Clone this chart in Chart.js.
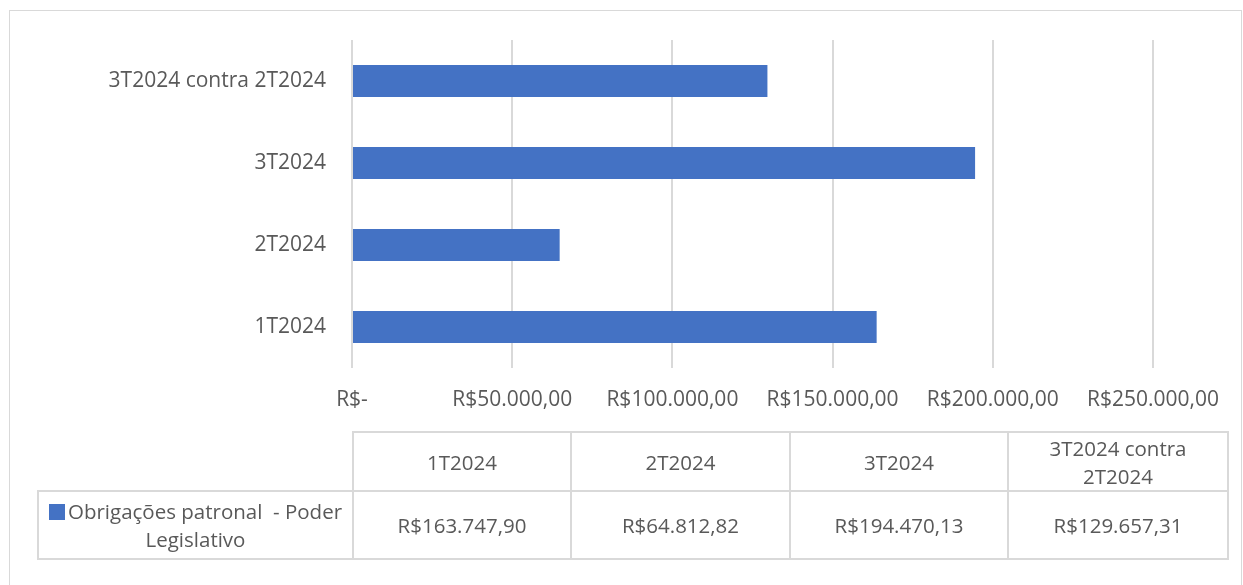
<!DOCTYPE html>
<html>
<head>
<meta charset="utf-8">
<script src="https://cdn.jsdelivr.net/npm/chart.js"></script>
<style>
  body { margin: 0; background: #fff; font-family: "Open Sans", sans-serif; }
  #wrap { position: relative; width: 1243px; height: 585px; overflow: hidden; }
  #frame { position: absolute; left: 9px; top: 10px; width: 1231px; height: 600px; border: 1px solid #d9d9d9; }
  canvas { position: absolute; left: 0; top: 0; }
  table { position: absolute; left: 37px; top: 431px; width: 1190px; table-layout: fixed;
          border-collapse: collapse; color: #595959; font-size: 20.5px; }
  td { border: 2px solid #d9d9d9; text-align: center; padding: 0; line-height: 28px; overflow: hidden; white-space: nowrap; }
  tr.head td { height: 57px; }
  tr.vals td { height: 66px; }
  td.blank { border: none; border-bottom: 2px solid #d9d9d9; }
  .sw { display: inline-block; width: 16px; height: 16px; background: #4472C4; margin-right: 3px; vertical-align: -1px; }
</style>
</head>
<body>
<div id="wrap">
  <div id="frame"></div>
  <canvas id="chart" width="1243" height="585"></canvas>
  <table id="tbl"></table>
</div>
<script>
const categories = ["1T2024", "2T2024", "3T2024", "3T2024 contra 2T2024"];
const tableHeaders = ["1T2024", "2T2024", "3T2024", "3T2024 contra<br>2T2024"];
const seriesName = "Obrigações patronal  - Poder Legislativo";
const values = [163747.90, 64812.82, 194470.13, 129657.31];
const axisMax = 250000;
const axisStep = 50000;

function brl(v) {
  if (v === 0) return "R$-";
  const parts = v.toFixed(2).split(".");
  const int = parts[0].replace(/\B(?=(\d{3})+(?!\d))/g, ".");
  return "R$" + int + "," + parts[1];
}

// data table under the chart
const colW = [315, 218, 219, 218, 220];
let html = '<colgroup>' + colW.map(w => '<col style="width:' + w + 'px">').join('') + '</colgroup>';
html += '<tr class="head"><td class="blank"></td>';
tableHeaders.forEach(h => { html += '<td>' + h + '</td>'; });
html += '</tr><tr class="vals"><td><span class="sw"></span>Obrigações patronal&nbsp; - Poder<br>Legislativo</td>';
values.forEach(v => { html += '<td>' + brl(v) + '</td>'; });
html += '</tr>';
document.getElementById("tbl").innerHTML = html;

const font = { family: "Open Sans", size: 21 };

new Chart(document.getElementById("chart"), {
  type: 'bar',
  data: {
    labels: categories,
    datasets: [{
      label: seriesName,
      data: values,
      backgroundColor: "#4472C4",
      barPercentage: 0.39,
      categoryPercentage: 1
    }]
  },
  options: {
    indexAxis: 'y',
    responsive: false,
    animation: false,
    layout: { padding: { top: 40, right: 90, left: 0, bottom: 0 } },
    plugins: { legend: { display: false }, tooltip: { enabled: false } },
    scales: {
      x: {
        min: 0,
        max: axisMax,
        ticks: {
          stepSize: axisStep,
          padding: 19,
          color: "#595959",
          font: font,
          callback: v => brl(v)
        },
        grid: { color: "#d9d9d9", lineWidth: 2, drawTicks: false },
        border: { display: false },
        afterFit: s => { s.height = 217; }
      },
      y: {
        reverse: true,
        ticks: {
          padding: 18,
          color: "#595959",
          font: font
        },
        grid: { display: false },
        border: { display: false },
        afterFit: s => { s.width = 352; }
      }
    }
  }
});
</script>
</body>
</html>
